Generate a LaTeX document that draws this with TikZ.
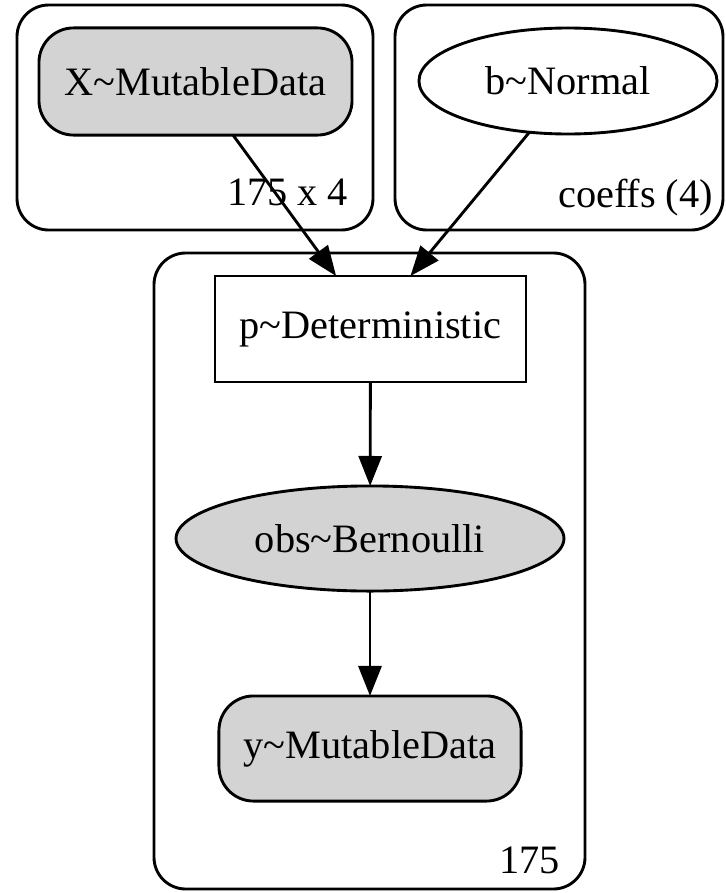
\documentclass[tikz,border=0pt]{standalone}
\usepackage{fontspec}
\setmainfont{Liberation Serif}
\usetikzlibrary{arrows.meta,shapes.geometric}
\definecolor{obsgray}{HTML}{D3D3D3}
\tikzset{
  every node/.style={font=\fontsize{14pt}{16pt}\selectfont, inner sep=0pt, outer sep=0pt},
  plate/.style={draw, line width=1pt, rounded corners=11pt},
  datanode/.style={draw, line width=1pt, fill=obsgray, rounded corners=12pt, rectangle},
  rvnode/.style={draw, line width=1pt, ellipse},
  detnode/.style={draw, line width=1pt, rectangle},
  edge/.style={line width=1pt, -{Triangle[length=10.4pt,width=8pt]}},
  platelabel/.style={anchor=base east}
}
\newcommand{\tl}{\textasciitilde}
\begin{document}
\begin{tikzpicture}[x=0.3472pt, y=-0.3472pt]
  \useasboundingbox (0,0) rectangle (725,893);
  % plates
  \draw[plate] (17,5) rectangle (373,230);
  \draw[plate] (395,5) rectangle (723,230);
  \draw[plate] (154,253) rectangle (585,889);
  \node[platelabel] (lblX) at (348,205) {175 x 4};
  \node[platelabel] (lblb) at (713,207) {coeffs (4)};
  \node[platelabel] (lblobs) at (560,873) {175};
  % variables
  \node[datanode, minimum width=108.7pt, minimum height=37.2pt] (X) at (195.5,81.5) {X\tl MutableData};
  \node[rvnode, minimum width=103.5pt, minimum height=36.8pt] (b) at (568,81) {b\tl Normal};
  \node[detnode, minimum width=108pt, minimum height=36.8pt] (p) at (370.5,329) {p\tl Deterministic};
  \node[rvnode, fill=obsgray, minimum width=134.7pt, minimum height=36.5pt] (obs) at (370,538.5) {obs\tl Bernoulli};
  \node[datanode, minimum width=104.9pt, minimum height=36.5pt] (y) at (370,748.5) {y\tl MutableData};
  % dependencies
  \draw[edge] (X.-55.7) -- (p.123.8);
  \draw[edge] (b.233) -- (p.53.3);
  \draw[edge] (p) -- (obs);
  \draw[edge] (obs) -- (y);
\end{tikzpicture}
\end{document}
